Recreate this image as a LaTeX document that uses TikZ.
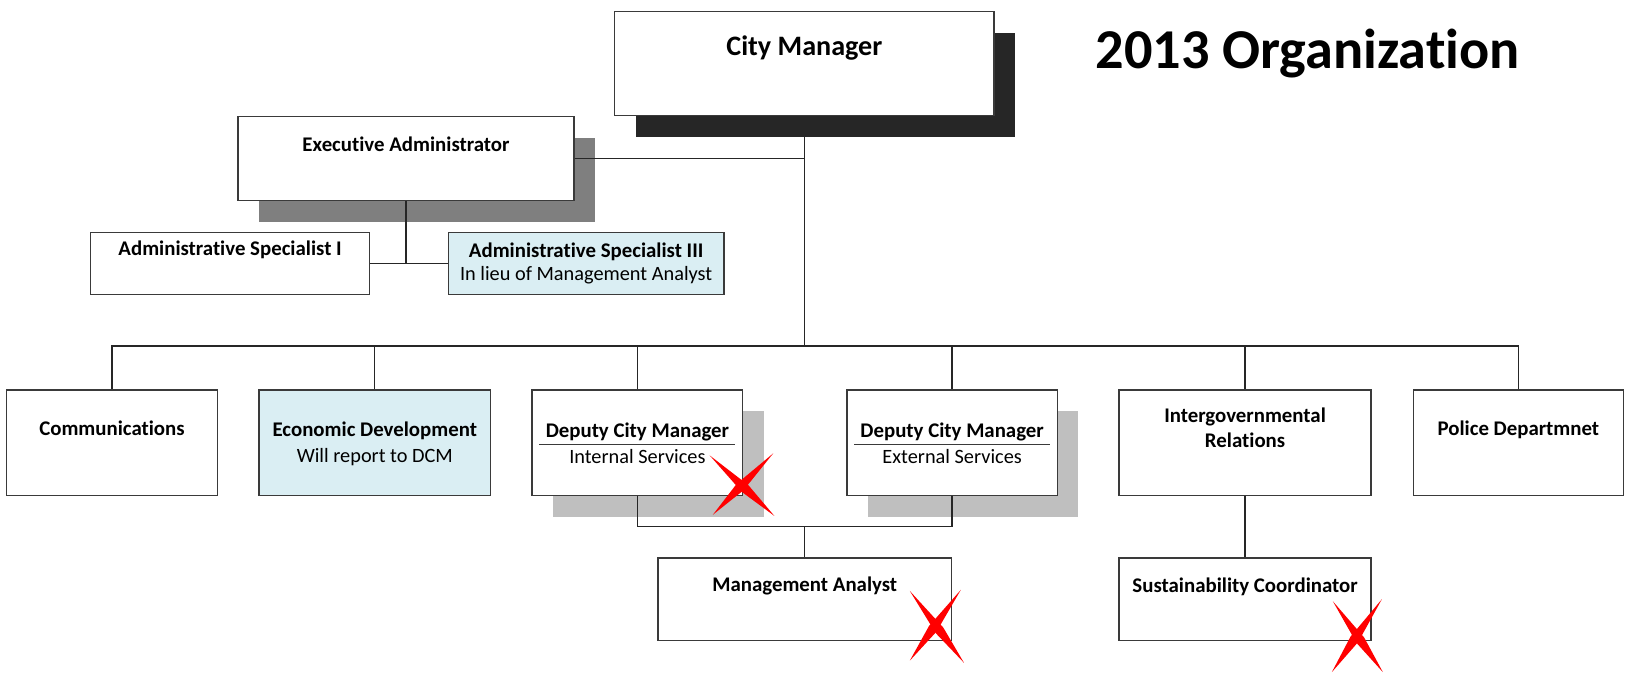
\documentclass[tikz,border=0pt]{standalone}
\usepackage{fontspec}
\setmainfont{Carlito}[Ligatures=NoCommon]
\usetikzlibrary{calc,shadows}
\definecolor{lblue}{HTML}{DAEEF3}
\definecolor{shdark}{HTML}{262626}
\definecolor{shmid}{HTML}{7F7F7F}
\definecolor{shlight}{HTML}{BFBFBF}
\definecolor{edgec}{HTML}{3A3A3A}
\definecolor{xred}{HTML}{FF0000}
\newcommand\brushstroke[3]{\fill[xred] (#1) -- ($(#1)!0.55!(#2)!#3!90:(#2)$) -- (#2) -- ($(#1)!0.55!(#2)!#3!-90:(#2)$) -- cycle;}
\begin{document}
\begin{tikzpicture}[x=1pt,y=-1pt,
  box/.style={draw=edgec, line width=1.3pt, fill=white, inner sep=0pt, anchor=north west},
  shadowdark/.style={drop shadow={shadow xshift=20pt, shadow yshift=-20pt, fill=shdark, opacity=1}},
  shadowmid/.style={drop shadow={shadow xshift=20pt, shadow yshift=-20pt, fill=shmid, opacity=1}},
  shadowlight/.style={drop shadow={shadow xshift=20pt, shadow yshift=-20pt, fill=shlight, opacity=1}},
  conn/.style={draw=black!85, line width=1.3pt},
  uline/.style={draw=edgec, line width=1.3pt},
  lbl/.style={anchor=base, inner sep=0pt, font=\fontsize{20}{24}\selectfont\bfseries},
  sub/.style={anchor=base, inner sep=0pt, font=\fontsize{19.5}{23}\selectfont},
  big/.style={anchor=base, inner sep=0pt, font=\fontsize{27}{32}\selectfont\bfseries},
  titlef/.style={anchor=base west, inner sep=0pt, font=\fontsize{54}{62}\selectfont\bfseries}
]
\useasboundingbox (0,0) rectangle (1567,650);
\coordinate (bus) at (0,332);

% boxes
\node[box, shadowdark, minimum width=364pt, minimum height=99.8pt] (cm) at (589.2,10.6) {};
\node[box, shadowmid, minimum width=322.5pt, minimum height=80.6pt] (ea) at (227.7,111.3) {};
\node[box, minimum width=267.4pt, minimum height=59.7pt] (as1) at (86.4,222.3) {};
\node[box, fill=lblue, minimum width=264.4pt, minimum height=59.7pt] (as3) at (429.6,222.3) {};
\node[box, minimum width=202pt, minimum height=101.4pt] (comm) at (5.8,373.6) {};
\node[box, fill=lblue, minimum width=222pt, minimum height=101.4pt] (econ) at (248,373.6) {};
\node[box, shadowlight, minimum width=202pt, minimum height=101.4pt] (dcmi) at (510,373.6) {};
\node[box, shadowlight, minimum width=202pt, minimum height=101.4pt] (dcme) at (812,373.6) {};
\node[box, minimum width=241.8pt, minimum height=101.4pt] (ig) at (1073.2,373.6) {};
\node[box, minimum width=201.5pt, minimum height=101.4pt] (pol) at (1355.6,373.6) {};
\node[box, minimum width=282pt, minimum height=79.3pt] (ma) at (630.6,534.8) {};
\node[box, minimum width=241.8pt, minimum height=79.3pt] (sc) at (1073.2,534.8) {};

% connectors
\draw[conn] (cm.south) -- (cm.south |- bus);
\draw[conn] (ea.east) -- (ea.east -| cm.south);
\draw[conn] (ea.south) -- (ea.south |- as1.east);
\draw[conn] (as1.east) -- (as3.west);
\draw[conn] (comm.north) -- (comm.north |- bus) -- (pol.north |- bus) -- (pol.north);
\foreach \n in {econ,dcmi,dcme,ig} \draw[conn] (\n.north) -- (\n.north |- bus);
\coordinate (mj) at (ma.north |- 0,505);
\draw[conn] (dcmi.south) |- (mj);
\draw[conn] (dcme.south) |- (mj);
\draw[conn] (mj) -- (ma.north);
\draw[conn] (ig.south) -- (sc.north);

% texts
\node[big] (cmt) at (cm.north |- 0,53) {City Manager};
\node[lbl] (eat) at (ea.north |- 0,145.6) {Executive Administrator};
\node[lbl] (as1t) at (as1.north |- 0,245.4) {Administrative Specialist I};
\node[lbl] (as3t) at (as3.north |- 0,247) {Administrative Specialist III};
\node[sub] (as3s) at (as3.north |- 0,269) {In lieu of Management Analyst};
\node[lbl] (commt) at (comm.north |- 0,417.5) {Communications};
\node[lbl] (econt) at (econ.north |- 0,418.5) {Economic Development};
\node[sub] (econs) at (econ.north |- 0,443.5) {Will report to DCM};
\node[lbl] (dcmit) at (dcmi.north |- 0,419.5) {Deputy City Manager};
\node[sub] (dcmis) at (dcmi.north |- 0,444.5) {Internal Services};
\node[lbl] (dcmet) at (dcme.north |- 0,419.5) {Deputy City Manager};
\node[sub] (dcmes) at (dcme.north |- 0,444.5) {External Services};
\node[lbl] (igt1) at (ig.north |- 0,405) {Intergovernmental};
\node[lbl] (igt2) at (ig.north |- 0,429) {Relations};
\node[lbl] (polt) at (pol.north |- 0,417.5) {Police Departmnet};
\node[lbl] (mat) at (ma.north |- 0,567.8) {Management Analyst};
\node[lbl] (sct) at (sc.north |- 0,568.8) {Sustainability Coordinator};
\node[titlef] (title) at (1051,65.6) {2013 Organization};

% underlines
\draw[uline] ($(dcmi.north west)+(7.5,53)$) -- ($(dcmi.north east)+(-8,53)$);
\draw[uline] ($(dcme.north west)+(7.5,53)$) -- ($(dcme.north east)+(-8,53)$);

% red crosses
\brushstroke{681,437}{743,495}{4.5pt}
\brushstroke{742,435}{684,494}{4.5pt}
\brushstroke{873,567}{925,636}{4.5pt}
\brushstroke{922,566}{873,634}{4.5pt}
\brushstroke{1279,577}{1327,645}{4.5pt}
\brushstroke{1326,575}{1278,645}{4.5pt}
\end{tikzpicture}
\end{document}
